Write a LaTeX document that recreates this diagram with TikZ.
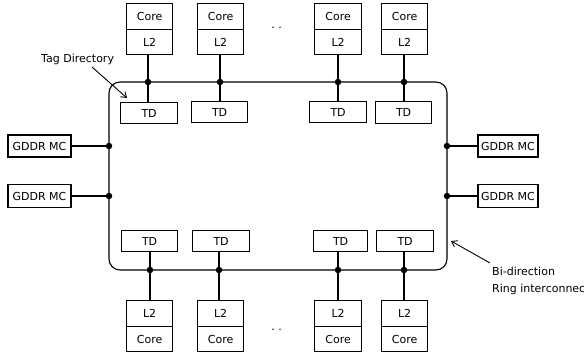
\documentclass[tikz,border=0pt]{standalone}
\usepackage{fontspec}
\setmainfont{DejaVu Sans}
\usetikzlibrary{arrows.meta}
\begin{document}
\begin{tikzpicture}[x=1pt,y=-1pt,
  box/.style={draw,line width=1.2pt,inner sep=0pt,font=\fontsize{11}{13}\selectfont},
  lbl/.style={font=\fontsize{11}{13}\selectfont,inner sep=0pt},
  wire/.style={line width=1.1pt},
  jdot/.style={circle,fill=black,inner sep=0pt,minimum size=6.5pt},
  arr/.style={line width=0.9pt,-{Straight Barb[length=5pt,width=7pt]}}]
\useasboundingbox (0,0) rectangle (584,352);
% ring
\draw[wire,rounded corners=11pt] (109,82) rectangle (447,270);
% top core/L2 boxes
\foreach \n/\a/\b/\lx in {1/126/172/148,2/197/243/220,3/314/361/338,4/381/427/404}{
  \node[box,minimum width=\b pt-\a pt,minimum height=26pt,anchor=north west] (tc\n) at (\a,3) {Core};
  \node[box,minimum width=\b pt-\a pt,minimum height=25pt,anchor=north west] (tl\n) at (\a,29) {L2};
  \node[jdot] (td\n) at (\lx,82) {};
}
\node[box,minimum width=57pt,minimum height=21pt,anchor=north west] (tt1) at (120,102) {TD};
\node[box,minimum width=56pt,minimum height=21pt,anchor=north west] (tt2) at (191,101) {TD};
\node[box,minimum width=57pt,minimum height=21pt,anchor=north west] (tt3) at (309,101) {TD};
\node[box,minimum width=56pt,minimum height=22pt,anchor=north west] (tt4) at (375,101) {TD};
\foreach \n in {1,2,3,4}{
  \draw[wire] (td\n |- tl\n.south) -- (td\n) -- (td\n |- tt\n.north);
}
% bottom
\foreach \n/\a/\b/\lx in {1/126/172/150,2/197/243/219,3/314/361/338,4/381/427/404}{
  \node[box,minimum width=\b pt-\a pt,minimum height=26pt,anchor=north west] (bl\n) at (\a,300) {L2};
  \node[box,minimum width=\b pt-\a pt,minimum height=25pt,anchor=north west] (bc\n) at (\a,326) {Core};
  \node[jdot] (bd\n) at (\lx,270) {};
}
\node[box,minimum width=56pt,minimum height=21pt,anchor=north west] (bt1) at (121,230) {TD};
\node[box,minimum width=57pt,minimum height=21pt,anchor=north west] (bt2) at (192,230) {TD};
\node[box,minimum width=54pt,minimum height=21pt,anchor=north west] (bt3) at (313,230) {TD};
\node[box,minimum width=57pt,minimum height=21pt,anchor=north west] (bt4) at (376,230) {TD};
\foreach \n in {1,2,3,4}{
  \draw[wire] (bd\n |- bt\n.south) -- (bd\n) -- (bd\n |- bl\n.north);
}
% GDDR MC
\node[box,minimum width=63pt,minimum height=22pt] (gl1) at (39.5,146) {GDDR MC};
\node[box,minimum width=63pt,minimum height=23pt] (gl2) at (39.5,196) {GDDR MC};
\node[box,minimum width=60pt,minimum height=22pt] (gr1) at (508,146) {GDDR MC};
\node[box,minimum width=60pt,minimum height=23pt] (gr2) at (508,196) {GDDR MC};
\node[jdot] (dl1) at (109,146) {};
\node[jdot] (dl2) at (109,196) {};
\node[jdot] (dr1) at (447,146) {};
\node[jdot] (dr2) at (447,196) {};
\draw[wire] (gl1) -- (dl1);
\draw[wire] (gl2) -- (dl2);
\draw[wire] (gr1) -- (dr1);
\draw[wire] (gr2) -- (dr2);
% ellipses
\node[lbl] (e1) at (276.5,28) {.\hspace{3.5pt}.};
\node[lbl] (e2) at (276.5,330) {.\hspace{3.5pt}.};
% labels
\node[lbl,anchor=west] (tag) at (41,59) {Tag Directory};
\coordinate (taghead) at (127,98);
\draw[arr] (92,67) -- (taghead);
\node[lbl,anchor=west] (bi1) at (492,271) {Bi-direction};
\node[lbl,anchor=west] (bi2) at (492,289) {Ring interconnec};
\coordinate (bihead) at (451,241);
\draw[arr] (490,263) -- (bihead);
\end{tikzpicture}
\end{document}
